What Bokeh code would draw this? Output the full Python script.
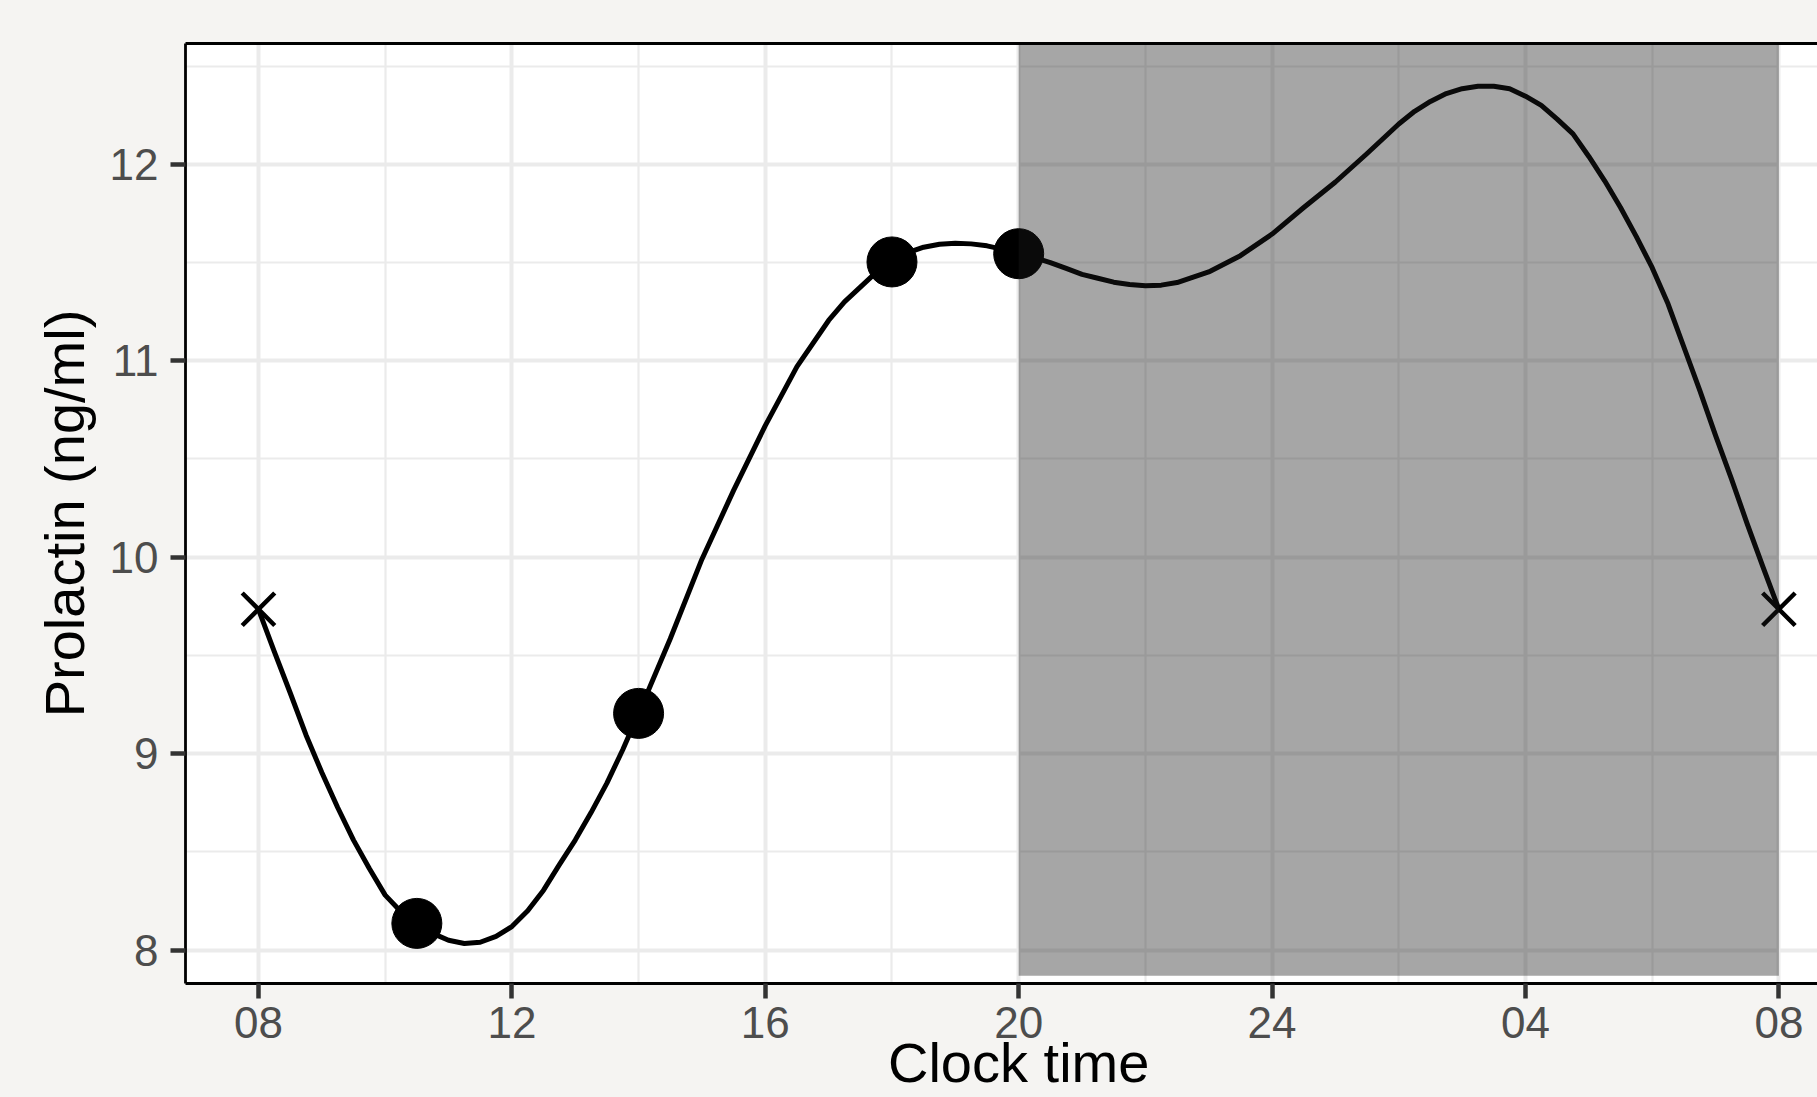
from bokeh.plotting import figure
from bokeh.models import FixedTicker, Range1d, LinearAxis
from bokeh.embed import file_html
from bokeh.resources import INLINE

# ---- data (clock hours, 24+ = next day) ----
sample_hour = [10.5, 14.0, 18.0, 20.0]
sample_prolactin = [8.136, 9.205, 11.503, 11.545]

anchor_hour = [8.0, 32.0]
anchor_prolactin = [9.735, 9.735]

curve_hour = [8.0, 8.25, 8.5, 8.75, 9.0, 9.25, 9.5, 9.75, 10.0, 10.25, 10.5, 10.75,
              11.0, 11.25, 11.5, 11.75, 12.0, 12.25, 12.5, 12.75, 13.0, 13.25,
              13.5, 13.75, 14.0, 14.5, 15.0, 15.5, 16.0, 16.5, 17.0, 17.25, 17.5,
              17.75, 18.0, 18.25, 18.5, 18.75, 19.0, 19.25, 19.5, 19.75, 20.0,
              20.25, 20.5, 20.75, 21.0, 21.25, 21.5, 21.75, 22.0, 22.25, 22.5,
              23.0, 23.5, 24.0, 24.5, 25.0, 25.5, 26.0, 26.25, 26.5, 26.75, 27.0,
              27.25, 27.5, 27.75, 28.0, 28.25, 28.5, 28.75, 29.0, 29.25, 29.5,
              29.75, 30.0, 30.25, 30.5, 30.75, 31.0, 31.25, 31.5, 31.75, 32.0]
curve_prolactin = [9.735, 9.52, 9.31, 9.095, 8.904, 8.726, 8.56, 8.415, 8.28, 8.195,
                   8.136, 8.085, 8.05, 8.034, 8.04, 8.07, 8.12, 8.20, 8.305, 8.435,
                   8.56, 8.70, 8.85, 9.02, 9.205, 9.585, 9.99, 10.34, 10.67, 10.97,
                   11.205, 11.30, 11.375, 11.45, 11.503, 11.55, 11.578, 11.593,
                   11.598, 11.595, 11.585, 11.567, 11.545, 11.525, 11.50, 11.47,
                   11.44, 11.42, 11.40, 11.388, 11.382, 11.385, 11.398, 11.452,
                   11.535, 11.645, 11.78, 11.91, 12.055, 12.205, 12.27, 12.32,
                   12.36, 12.385, 12.397, 12.397, 12.385, 12.347, 12.30, 12.23,
                   12.155, 12.04, 11.916, 11.78, 11.632, 11.474, 11.29, 11.07,
                   10.85, 10.62, 10.40, 10.17, 9.95, 9.735]

night_start = [20.0]
night_end = [32.0]
night_floor = [7.869]

x_tick_values = [8, 12, 16, 20, 24, 28, 32]
x_tick_labels = ["08", "12", "16", "20", "24", "04", "08"]
x_minor_values = [10, 14, 18, 22, 26, 30]
y_tick_values = [8, 9, 10, 11, 12]
y_minor_values = [8.5, 9.5, 10.5, 11.5, 12.5]

x_title = "Clock time"
y_title = "Prolactin (ng/ml)"

# ---- styling ----
FONT = "Liberation Sans"
BG = "#F5F4F2"
W, H = 1817, 1097
TOP, BOTTOM, LEFT = 43, 114, 185
PX_PER_HOUR = 63.35
x0 = 6.848
x1 = x0 + (W - LEFT) / PX_PER_HOUR
y0, y1 = 7.830, 12.615

p = figure(width=W, height=H, output_backend="svg", toolbar_location=None,
           x_range=Range1d(x0, x1), y_range=Range1d(y0, y1),
           min_border_left=LEFT, min_border_right=0,
           min_border_top=TOP, min_border_bottom=BOTTOM)
p.outline_line_color = None
p.background_fill_color = "white"
p.border_fill_color = BG

xt = FixedTicker(ticks=x_tick_values, minor_ticks=x_minor_values)
yt = FixedTicker(ticks=y_tick_values, minor_ticks=y_minor_values)

xa = p.below[0]
ya = p.left[0]
xa.ticker = xt
ya.ticker = yt
p.xgrid.ticker = xt
p.ygrid.ticker = yt
xa.major_label_overrides = {v: l for v, l in zip(x_tick_values, x_tick_labels)}

for ax in (xa, ya):
    ax.axis_line_color = "black"
    ax.axis_line_width = 2.8
    ax.major_tick_line_color = "#333333"
    ax.major_tick_line_width = 4.5
    ax.major_tick_in = 0
    ax.major_tick_out = 15
    ax.minor_tick_line_color = None
    ax.major_label_text_font = FONT
    ax.major_label_text_font_size = "44px"
    ax.major_label_text_color = "#4D4D4D"
xa.major_label_standoff = 8
ya.major_label_standoff = 12

ya.axis_label = y_title
ya.axis_label_text_font = FONT
ya.axis_label_text_font_size = "56px"
ya.axis_label_text_font_style = "normal"
ya.axis_label_text_color = "black"
ya.axis_label_standoff = 11

# x title: a label-only axis centred on the middle of the time span
x_center = (x_tick_values[0] + x_tick_values[-1]) / 2
title_axis = LinearAxis(ticker=FixedTicker(ticks=[x_center]),
                        major_label_overrides={x_center: x_title},
                        axis_line_color=None, major_tick_line_color=None,
                        minor_tick_line_color=None, major_tick_in=0, major_tick_out=0,
                        major_label_standoff=-10,
                        major_label_text_font=FONT, major_label_text_font_size="56px",
                        major_label_text_color="black")
p.add_layout(title_axis, "below")

top_axis = LinearAxis(ticker=FixedTicker(ticks=[]), axis_line_color="black",
                      axis_line_width=2.8, major_tick_line_color=None,
                      minor_tick_line_color=None, major_label_text_font_size="0px")
p.add_layout(top_axis, "above")

for g in (p.xgrid, p.ygrid):
    g.grid_line_color = "#EBEBEB"
    g.grid_line_width = 4
    g.minor_grid_line_color = "#EBEBEB"
    g.minor_grid_line_width = 2.2

# curve and points
p.line(curve_hour, curve_prolactin, line_color="black", line_width=5,
       line_join="round")
p.scatter(sample_hour, sample_prolactin, marker="circle", size=50,
          fill_color="black", line_color="black")
p.scatter(anchor_hour, anchor_prolactin, marker="x", size=46,
          line_color="black", line_width=4.5)

# night shading (drawn on top, translucent)
p.quad(left=night_start, right=night_end, bottom=night_floor,
       top=[y1 + 1] * len(night_start),
       fill_color="#1A1A1A", fill_alpha=0.39, line_color=None)

html = file_html(p, INLINE, title="Prolactin")
html = html.replace("</head>",
                    "<style>html,body{background:%s;overflow:hidden;}</style></head>" % BG, 1)
open("out.html", "w").write(html)
